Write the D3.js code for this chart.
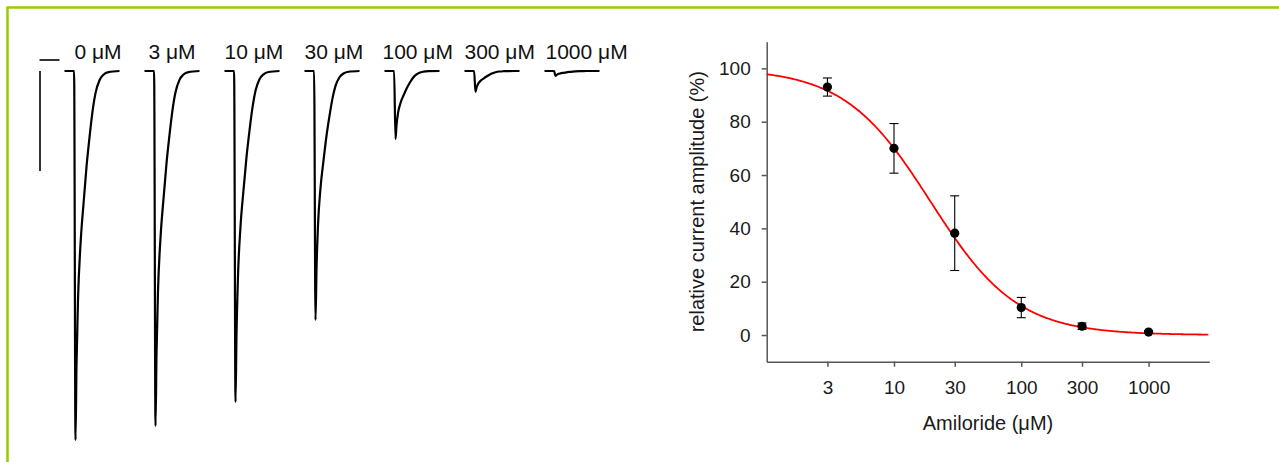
<!DOCTYPE html>
<html>
<head>
<meta charset="utf-8">
<script src="https://cdn.jsdelivr.net/npm/d3@7"></script>
<style>
  body { margin: 0; background: #fff; }
  svg { display: block; font-family: Arial, "Liberation Sans", sans-serif; }
  .axis path, .axis line { stroke: #555; stroke-width: 1.5; }
  .axis text { fill: #1a1a1a; font-size: 19px; }
  .axis-text { fill: #1a1a1a; font-size: 20px; }
</style>
</head>
<body>
<svg id="chart"></svg>
<script>
// Current traces (left panel)
const concLabels = ["0 \u03bcM", "3 \u03bcM", "10 \u03bcM", "30 \u03bcM", "100 \u03bcM", "300 \u03bcM", "1000 \u03bcM"];
const peakCurrent = [3.69, 3.55, 3.31, 2.49, 0.68, 0.21, 0.05];   // nA, scale bar = 1 nA
// normalised current waveform, ms from peak
const traceTime = [-55, -7, 0, 5, 12.5, 25, 40, 55, 70, 85, 100, 120, 140, 165, 220];
const traceShape = [0, 0, 1, 0.8, 0.62, 0.47, 0.36, 0.26, 0.18, 0.11, 0.06, 0.025, 0.01, 0.003, 0];
const traceSpacing = 400; // ms between traces

// Dose-response (right panel)
const doses = [3, 10, 30, 100, 300, 1000];                 // µM amiloride
const relAmplitude = [93, 70, 38.2, 10.3, 3.3, 1.1];     // %
const relError = [3.4, 9.3, 14, 3.8, 1.2, 0.5];
const xTicks = [3, 10, 30, 100, 300, 1000];
const yTicks = [0, 20, 40, 60, 80, 100];
// Hill fit parameters
const fitTop = 100, fitBottom = 0, ic50 = 19.4, hillN = 1.28;

var W = 1279, H = 462;
var svg = d3.select("#chart").attr("width", W).attr("height", H);

// Green frame (only top and left edges visible)
svg.append("rect")
    .attr("x", 7.5).attr("y", 7.5)
    .attr("width", W + 20).attr("height", H + 20)
    .attr("fill", "none")
    .attr("stroke", "#99cc00")
    .attr("stroke-width", 2.5);

// ---- Left panel: traces ----
var xT = d3.scaleLinear()
    .domain([-55, (concLabels.length - 1) * traceSpacing + 220])
    .range([64.5, 64.5 + ((concLabels.length - 1) * traceSpacing + 275) / 5]);
var yT = d3.scaleLinear().domain([0, -4]).range([71, 471]);

var traceLine = d3.line()
    .x(d => xT(d.t))
    .y(d => yT(d.i))
    .curve(d3.curveMonotoneX);

var labelDx = [10, 4, 0, 0, -2, 0, 1];

concLabels.forEach(function (label, k) {
    var pts = traceTime.map((t, j) => ({ t: t + k * traceSpacing, i: -peakCurrent[k] * traceShape[j] }));
    svg.append("path")
        .datum(pts)
        .attr("d", traceLine)
        .attr("fill", "none")
        .attr("stroke", "#000")
        .attr("stroke-width", 2.2)
        .attr("stroke-linejoin", "round");

    svg.append("text")
        .attr("x", xT(-55 + k * traceSpacing) + labelDx[k])
        .attr("y", 59)
        .style("font-size", "21px")
        .attr("fill", "#111")
        .text(label);
});

// Scale bars: 100 ms and 1 nA
var barX = 40;
svg.append("line")
    .attr("x1", barX - 0.5).attr("x2", barX - 0.5 + xT(100) - xT(0))
    .attr("y1", 60).attr("y2", 60)
    .attr("stroke", "#000").attr("stroke-width", 1.6);
svg.append("line")
    .attr("x1", barX).attr("x2", barX)
    .attr("y1", yT(0)).attr("y2", yT(-1))
    .attr("stroke", "#000").attr("stroke-width", 1.6);

// ---- Right panel: dose-response ----
var pLeft = 766.7, pRight = 1209.3, pTop = 41.7, pBottom = 361.7;
var x = d3.scaleLog().domain([1, 3000]).range([pLeft, pRight]);
var y = d3.scaleLinear().domain([-10, 110]).range([pBottom, pTop]);

svg.append("g")
    .attr("class", "axis")
    .attr("transform", "translate(0," + pBottom + ")")
    .call(d3.axisBottom(x).tickValues(xTicks).tickFormat(d3.format("d"))
        .tickSize(5).tickSizeOuter(0).tickPadding(14));

svg.append("g")
    .attr("class", "axis")
    .attr("transform", "translate(" + pLeft + ",0)")
    .call(d3.axisLeft(y).tickValues(yTicks).tickSize(5).tickSizeOuter(0).tickPadding(11));

// fit curve
var hill = c => fitBottom + (fitTop - fitBottom) / (1 + Math.pow(c / ic50, hillN));
var fitPts = d3.range(0, Math.log10(3000) + 0.001, 0.01).map(l => Math.pow(10, l));
svg.append("path")
    .datum(fitPts)
    .attr("d", d3.line().x(c => x(c)).y(c => y(hill(c))))
    .attr("fill", "none")
    .attr("stroke", "#ff0000")
    .attr("stroke-width", 1.8);

// error bars
var pts = doses.map((d, i) => ({ c: d, v: relAmplitude[i], e: relError[i] }));
var eb = svg.append("g").attr("stroke", "#000").attr("stroke-width", 1.1);
pts.forEach(function (p) {
    eb.append("line").attr("x1", x(p.c)).attr("x2", x(p.c))
        .attr("y1", y(p.v - p.e)).attr("y2", y(p.v + p.e));
    [p.v - p.e, p.v + p.e].forEach(function (v) {
        eb.append("line").attr("x1", x(p.c) - 4.5).attr("x2", x(p.c) + 4.5)
            .attr("y1", y(v)).attr("y2", y(v));
    });
});

svg.selectAll(".dot")
    .data(pts)
    .enter().append("circle")
    .attr("class", "dot")
    .attr("cx", d => x(d.c))
    .attr("cy", d => y(d.v))
    .attr("r", 4.6)
    .attr("fill", "#000");

// axis titles
svg.append("text")
    .attr("class", "axis-text")
    .attr("transform", "rotate(-90)")
    .attr("x", -(pTop + pBottom) / 2)
    .attr("y", 704)
    .style("text-anchor", "middle")
    .text("relative current amplitude (%)");

svg.append("text")
    .attr("class", "axis-text")
    .attr("x", (pLeft + pRight) / 2)
    .attr("y", 430)
    .style("text-anchor", "middle")
    .text("Amiloride (\u03bcM)");
</script>
</body>
</html>
